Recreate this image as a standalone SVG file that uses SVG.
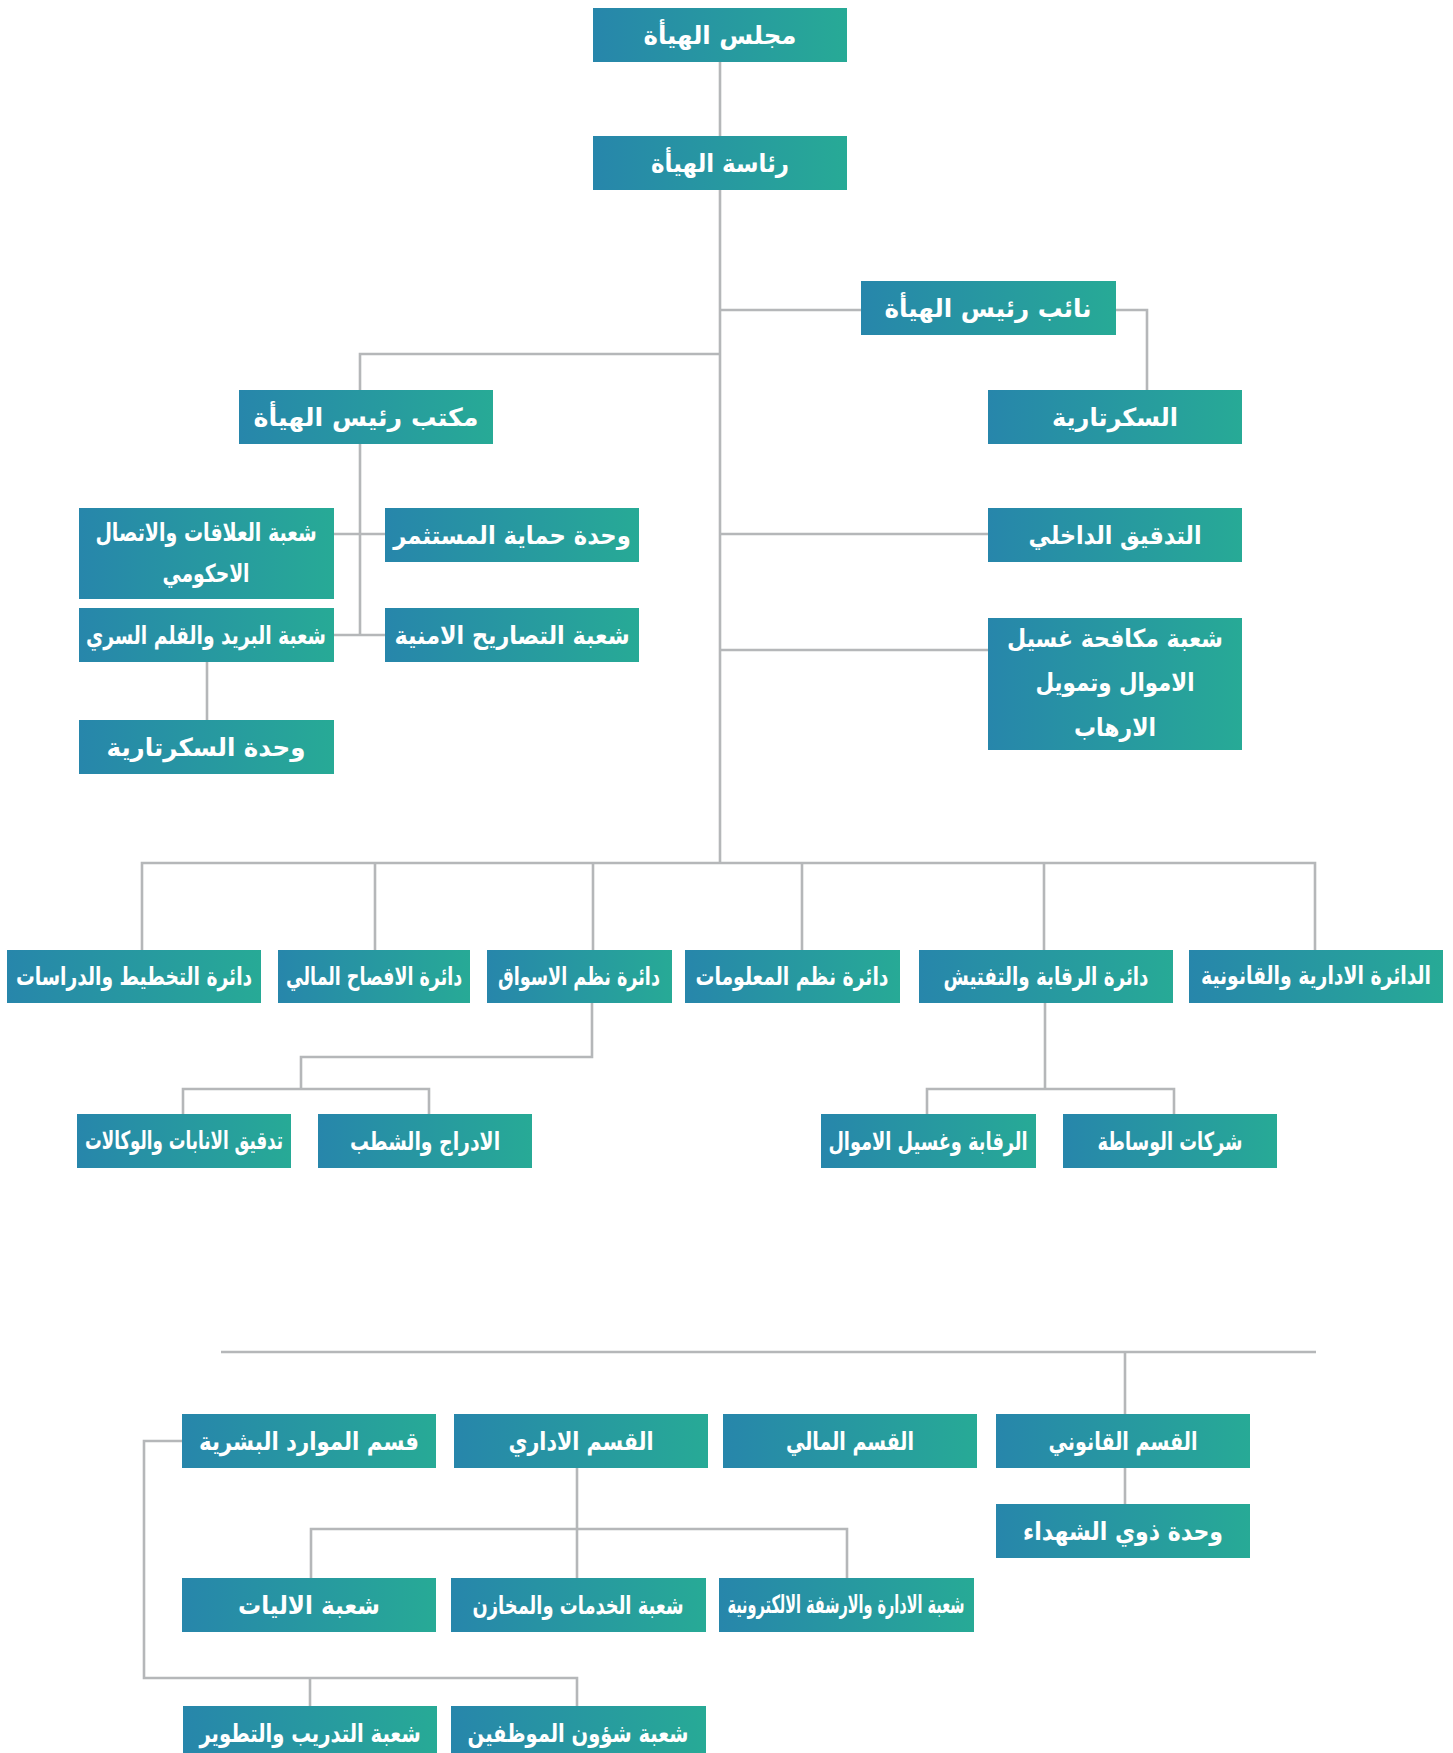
<svg xmlns="http://www.w3.org/2000/svg" width="1453" height="1753" viewBox="0 0 1453 1753">
<style>
.b{fill:url(#g)}
.t{fill:#fff;font-family:'DejaVu Sans',sans-serif;font-weight:bold;font-size:25px;text-anchor:middle;dominant-baseline:central}
.c{fill:none;stroke:#b5b7b9;stroke-width:2.6}
</style>
<defs>
<linearGradient id="g" x1="0" y1="0" x2="1" y2="0">
<stop offset="0" stop-color="#2786ab"/>
<stop offset="1" stop-color="#27aa96"/>
</linearGradient>
</defs>
<rect width="1453" height="1753" fill="#fff"/>
<g id="connectors" class="c">
<path d="M720,62V136"/>
<path d="M720,190V863"/>
<path d="M720,310H861"/>
<path d="M1116,310H1147V390"/>
<path d="M720,354H360V390"/>
<path d="M360,444V635"/>
<path d="M334,534H385"/>
<path d="M334,635H385"/>
<path d="M207,662V720"/>
<path d="M720,534H988"/>
<path d="M720,650H988"/>
<path d="M142,950V863H1315V950"/>
<path d="M375,863V950M593,863V950M802,863V950M1044,863V950"/>
<path d="M592,1003V1057H301V1089"/>
<path d="M183,1114V1089H429V1114"/>
<path d="M1045,1003V1089"/>
<path d="M927,1114V1089H1174V1114"/>
<path d="M221,1352H1316"/>
<path d="M1125,1352V1414M1125,1468V1504"/>
<path d="M577,1468V1578"/>
<path d="M311,1578V1529H847V1578"/>
<path d="M182,1441H144V1678H577V1706"/>
<path d="M310,1678V1706"/>
</g>
<g id="n1"><rect class="b" x="593" y="8" width="254" height="54"/><text class="t" x="720" y="35" textLength="153" lengthAdjust="spacingAndGlyphs">مجلس الهيأة</text></g>
<g id="n2"><rect class="b" x="593" y="136" width="254" height="54"/><text class="t" x="720" y="163" textLength="138" lengthAdjust="spacingAndGlyphs">رئاسة الهيأة</text></g>
<g id="n3"><rect class="b" x="861" y="281" width="255" height="54"/><text class="t" x="988" y="308" textLength="207" lengthAdjust="spacingAndGlyphs">نائب رئيس الهيأة</text></g>
<g id="n4"><rect class="b" x="988" y="390" width="254" height="54"/><text class="t" x="1115" y="417" textLength="126" lengthAdjust="spacingAndGlyphs">السكرتارية</text></g>
<g id="n5"><rect class="b" x="239" y="390" width="254" height="54"/><text class="t" x="366" y="417" textLength="225" lengthAdjust="spacingAndGlyphs">مكتب رئيس الهيأة</text></g>
<g id="n6"><rect class="b" x="79" y="508" width="255" height="91"/><text class="t" transform="translate(206,532) scale(0.75,1)" textLength="295" lengthAdjust="spacingAndGlyphs">شعبة العلاقات والاتصال</text><text class="t" x="206" y="573" textLength="87" lengthAdjust="spacingAndGlyphs">الاحكومي</text></g>
<g id="n7"><rect class="b" x="385" y="508" width="254" height="54"/><text class="t" transform="translate(512,535) scale(0.8,1)" textLength="297" lengthAdjust="spacingAndGlyphs">وحدة حماية المستثمر</text></g>
<g id="n8"><rect class="b" x="79" y="608" width="255" height="54"/><text class="t" transform="translate(206,635) scale(0.75,1)" textLength="320" lengthAdjust="spacingAndGlyphs">شعبة البريد والقلم السري</text></g>
<g id="n9"><rect class="b" x="385" y="608" width="254" height="54"/><text class="t" transform="translate(512,635) scale(0.8,1)" textLength="294" lengthAdjust="spacingAndGlyphs">شعبة التصاريح الامنية</text></g>
<g id="n10"><rect class="b" x="79" y="720" width="255" height="54"/><text class="t" x="206" y="747" textLength="199" lengthAdjust="spacingAndGlyphs">وحدة السكرتارية</text></g>
<g id="n11"><rect class="b" x="988" y="508" width="254" height="54"/><text class="t" x="1115" y="535" textLength="173" lengthAdjust="spacingAndGlyphs">التدقيق الداخلي</text></g>
<g id="n12"><rect class="b" x="988" y="618" width="254" height="132"/><text class="t" x="1115" y="638" textLength="216" lengthAdjust="spacingAndGlyphs">شعبة مكافحة غسيل</text><text class="t" x="1115" y="682" textLength="159" lengthAdjust="spacingAndGlyphs">الاموال وتمويل</text><text class="t" x="1115" y="727" textLength="82" lengthAdjust="spacingAndGlyphs">الارهاب</text></g>
<g id="n13"><rect class="b" x="7" y="950" width="254" height="53"/><text class="t" transform="translate(134,976) scale(0.75,1)" textLength="315" lengthAdjust="spacingAndGlyphs">دائرة التخطيط والدراسات</text></g>
<g id="n14"><rect class="b" x="278" y="950" width="192" height="53"/><text class="t" transform="translate(374,976) scale(0.65,1)" textLength="271" lengthAdjust="spacingAndGlyphs">دائرة الافصاح المالي</text></g>
<g id="n15"><rect class="b" x="487" y="950" width="185" height="53"/><text class="t" transform="translate(579,976) scale(0.68,1)" textLength="238" lengthAdjust="spacingAndGlyphs">دائرة نظم الاسواق</text></g>
<g id="n16"><rect class="b" x="685" y="950" width="215" height="53"/><text class="t" transform="translate(792,976) scale(0.72,1)" textLength="268" lengthAdjust="spacingAndGlyphs">دائرة نظم المعلومات</text></g>
<g id="n17"><rect class="b" x="919" y="950" width="254" height="53"/><text class="t" transform="translate(1046,976) scale(0.67,1)" textLength="306" lengthAdjust="spacingAndGlyphs">دائرة الرقابة والتفتيش</text></g>
<g id="n18"><rect class="b" x="1189" y="950" width="254" height="53"/><text class="t" transform="translate(1316,976) scale(0.63,1)" textLength="365" lengthAdjust="spacingAndGlyphs">الدائرة الادارية والقانونية</text></g>
<g id="n19"><rect class="b" x="77" y="1114" width="214" height="54"/><text class="t" transform="translate(184,1141) scale(0.6,1)" textLength="330" lengthAdjust="spacingAndGlyphs">تدقيق الانابات والوكالات</text></g>
<g id="n20"><rect class="b" x="318" y="1114" width="214" height="54"/><text class="t" transform="translate(425,1141) scale(0.77,1)" textLength="195" lengthAdjust="spacingAndGlyphs">الادراج والشطب</text></g>
<g id="n21"><rect class="b" x="821" y="1114" width="215" height="54"/><text class="t" transform="translate(928,1141) scale(0.68,1)" textLength="293" lengthAdjust="spacingAndGlyphs">الرقابة وغسيل الاموال</text></g>
<g id="n22"><rect class="b" x="1063" y="1114" width="214" height="54"/><text class="t" transform="translate(1170,1141) scale(0.8,1)" textLength="181" lengthAdjust="spacingAndGlyphs">شركات الوساطة</text></g>
<g id="n23"><rect class="b" x="182" y="1414" width="254" height="54"/><text class="t" x="309" y="1441" textLength="220" lengthAdjust="spacingAndGlyphs">قسم الموارد البشرية</text></g>
<g id="n24"><rect class="b" x="454" y="1414" width="254" height="54"/><text class="t" x="581" y="1441" textLength="145" lengthAdjust="spacingAndGlyphs">القسم الاداري</text></g>
<g id="n25"><rect class="b" x="723" y="1414" width="254" height="54"/><text class="t" x="850" y="1441" textLength="128" lengthAdjust="spacingAndGlyphs">القسم المالي</text></g>
<g id="n26"><rect class="b" x="996" y="1414" width="254" height="54"/><text class="t" x="1123" y="1441" textLength="149" lengthAdjust="spacingAndGlyphs">القسم القانوني</text></g>
<g id="n27"><rect class="b" x="996" y="1504" width="254" height="54"/><text class="t" x="1123" y="1531" textLength="200" lengthAdjust="spacingAndGlyphs">وحدة ذوي الشهداء</text></g>
<g id="n28"><rect class="b" x="182" y="1578" width="254" height="54"/><text class="t" x="309" y="1605" textLength="142" lengthAdjust="spacingAndGlyphs">شعبة الاليات</text></g>
<g id="n29"><rect class="b" x="451" y="1578" width="255" height="54"/><text class="t" transform="translate(578,1605) scale(0.72,1)" textLength="293" lengthAdjust="spacingAndGlyphs">شعبة الخدمات والمخازن</text></g>
<g id="n30"><rect class="b" x="719" y="1578" width="255" height="54"/><text class="t" transform="translate(846,1605) scale(0.51,1)" textLength="465" lengthAdjust="spacingAndGlyphs">شعبة الادارة والارشفة الالكترونية</text></g>
<g id="n31"><rect class="b" x="183" y="1706" width="254" height="54"/><text class="t" transform="translate(310,1733) scale(0.75,1)" textLength="295" lengthAdjust="spacingAndGlyphs">شعبة التدريب والتطوير</text></g>
<g id="n32"><rect class="b" x="451" y="1706" width="255" height="54"/><text class="t" transform="translate(578,1733) scale(0.83,1)" textLength="266" lengthAdjust="spacingAndGlyphs">شعبة شؤون الموظفين</text></g>
</svg>
